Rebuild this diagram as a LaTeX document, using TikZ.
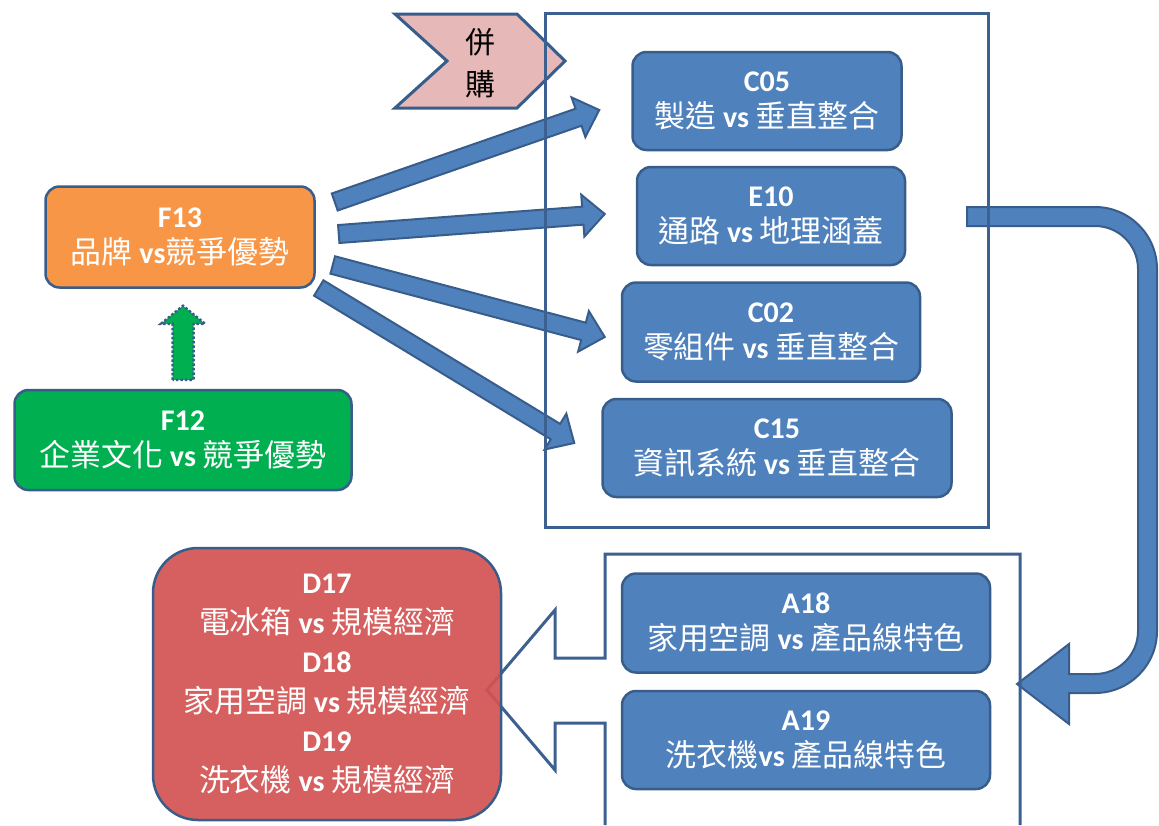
\documentclass[tikz,border=0pt]{standalone}
\usepackage{fontspec}
\setmainfont{Carlito}
\newfontfamily\cjk{Noto Sans CJK TC}[Scale=1.03]
\newcommand\zh[1]{{\mdseries\cjk #1}}
\usetikzlibrary{calc}

\definecolor{boxblue}{HTML}{4F81BD}
\definecolor{edgeblue}{HTML}{385D8A}
\definecolor{framecol}{HTML}{3C6090}
\definecolor{brandorange}{HTML}{F79646}
\definecolor{culturegreen}{HTML}{00B050}
\definecolor{scalered}{HTML}{D35353}
\definecolor{mapink}{HTML}{E6B9B8}

\tikzset{
  card/.style={draw=edgeblue, line width=2.5pt, rounded corners=14pt, text=white,
    align=center, font=\fontsize{30}{36}\selectfont\bfseries, inner sep=0pt},
  bluecard/.style={card, fill=boxblue},
  frameline/.style={draw=framecol, line width=3pt, line join=miter},
  blockarrow/.style={fill=boxblue, draw=edgeblue, line width=2pt, line join=miter},
}

% straight block arrow from #1 (tail centre) to #2 (tip)
\newcommand\blockarrow[2]{%
  \coordinate (ba-h) at ($(#2)!22pt!(#1)$);
  \path[blockarrow]
    ($(#1)!9pt!90:(#2)$) -- ($(ba-h)!9pt!90:(#2)$) -- ($(ba-h)!21pt!90:(#2)$)
    -- (#2) -- ($(ba-h)!21pt!-90:(#2)$) -- ($(ba-h)!9pt!-90:(#2)$)
    -- ($(#1)!9pt!-90:(#2)$) -- cycle;
}

\begin{document}
\begin{tikzpicture}[x=1pt, y=-1pt]
\useasboundingbox (0,0) rectangle (1159,825);

% chevron label
\path[fill=mapink, draw=edgeblue, line width=3pt, line join=miter]
  (395,14) -- (517,14) -- (565,61) -- (517,108) -- (395,108) -- (447,61) -- cycle;
\node[font=\fontsize{29}{42}\selectfont, align=center] (merge) at (480,63) {\zh{併}\\\zh{購}};

% cards
\node[bluecard, minimum width=269pt, minimum height=98pt] (c05) at (767,101)
  {C05\\\zh{製造} vs \zh{垂直整合}};
\node[bluecard, minimum width=268pt, minimum height=98pt] (e10) at (771,216)
  {E10\\\zh{通路} vs \zh{地理涵蓋}};
\node[bluecard, minimum width=298pt, minimum height=99pt] (c02) at (771,332)
  {C02\\\zh{零組件} vs \zh{垂直整合}};
\node[bluecard, minimum width=349pt, minimum height=98pt] (c15) at (777,448)
  {C15\\\zh{資訊系統} vs \zh{垂直整合}};
\node[bluecard, minimum width=368pt, minimum height=99pt] (a18) at (806,623)
  {A18\\\zh{家用空調} vs \zh{產品線特色}};
\node[bluecard, minimum width=368pt, minimum height=98pt] (a19) at (806,740)
  {A19\\\zh{洗衣機}vs \zh{產品線特色}};
\node[card, fill=brandorange, minimum width=269pt, minimum height=101pt] (f13) at (180,237)
  {F13\\\zh{品牌} vs\zh{競爭優勢}};
\node[card, fill=culturegreen, minimum width=337pt, minimum height=100pt] (f12) at (183,440)
  {F12\\\zh{企業文化} vs \zh{競爭優勢}};

% arrows from F13
\coordinate (s1) at ($(f13.east)+(19,-35)$);
\coordinate (s2) at ($(f13.east)+(23,-3)$);
\coordinate (s3) at ($(f13.east)+(17,28)$);
\coordinate (s4) at ($(f13.east)+(3,51)$);
\coordinate (t1) at ($(c05.west)+(-32,9)$);
\coordinate (t2) at ($(e10.west)+(-31,-2)$);
\coordinate (t3) at ($(c02.west)+(-16,5)$);
\coordinate (t4) at ($(c15.west)+(-27,-5)$);
\blockarrow{s1}{t1}
\blockarrow{s2}{t2}
\blockarrow{s3}{t3}
\blockarrow{s4}{t4}

% dotted arrow from F12 up to F13
\coordinate (g0) at ($(f12.north)+(0,-9)$);
\coordinate (g1) at ($(f13.south)+(3,17)$);
\path[fill=culturegreen, draw=edgeblue, dotted, line width=2.5pt]
  ($(g0)+(-10.5,0)$) -- ($(g1)+(-10.5,18)$) -- ($(g1)+(-22,18)$) -- (g1)
  -- ($(g1)+(22,18)$) -- ($(g1)+(10.5,18)$) -- ($(g0)+(10.5,0)$) -- cycle;

% U-turn arrow from the upper group down to the lower group
\path[blockarrow]
  (967,207) -- (1095,207) arc[start angle=90, end angle=0, radius=62pt]
  -- (1157,631) arc[start angle=0, end angle=-90, radius=62pt]
  -- (1069,693) -- (1069,724) -- (1017,684) -- (1069,644) -- (1069,674)
  -- (1095,674) arc[start angle=-90, end angle=0, radius=43pt]
  -- (1138,269) arc[start angle=0, end angle=90, radius=43pt]
  -- (967,226) -- cycle;

% group frames
\draw[frameline] (545,13) rectangle (988,527);
\draw[frameline] (605,825) -- (605,723) -- (555,723) -- (555,770) -- (487,690)
  -- (555,610) -- (555,658) -- (605,658) -- (605,554) -- (1020,554) -- (1020,825);

% outcome card
\node[card, fill=scalered, fill opacity=0.93, text opacity=1, rounded corners=45pt,
  minimum width=348pt, minimum height=272pt, font=\fontsize{30}{39.5}\selectfont\bfseries] (d) at (327,684)
  {D17\\\zh{電冰箱} vs \zh{規模經濟}\\D18\\\zh{家用空調} vs \zh{規模經濟}\\D19\\\zh{洗衣機} vs \zh{規模經濟}};
\end{tikzpicture}
\end{document}
